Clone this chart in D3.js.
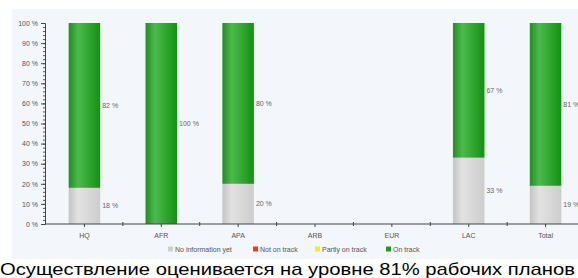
<!DOCTYPE html>
<html>
<head>
<meta charset="utf-8">
<script src="https://cdn.jsdelivr.net/npm/d3@7"></script>
<style>
  body { margin: 0; background: #fff; }
  svg { display: block; font-family: Arial, "Liberation Sans", sans-serif; }
</style>
</head>
<body>
<div id="visContainer"></div>
<script>
// data
const categories = ["HQ", "AFR", "APA", "ARB", "EUR", "LAC", "Total"];
const noInfo = [18, 0, 20, 0, 0, 33, 19];
const notOnTrack = [0, 0, 0, 0, 0, 0, 0];
const partlyOnTrack = [0, 0, 0, 0, 0, 0, 0];
const onTrack = [82, 100, 80, 0, 0, 67, 81];
const yTicks = [0, 10, 20, 30, 40, 50, 60, 70, 80, 90, 100];
const seriesNames = ["No information yet", "Not on track", "Partly on track", "On track"];
const caption = "Осуществление оценивается на уровне 81% рабочих планов";

const width = 578;
const height = 278;
const colors = ["#cfcfcf", "#e8401c", "#f2ee1a", "#1e9a1e"];

const svg = d3.select("#visContainer").append("svg")
  .attr("width", width)
  .attr("height", height);

// gradients for the cylinder-like bars
const defs = svg.append("defs");
const gradStops = [
  ["g0", "#c4c4c4", "#e2e2e2", "#cdcdcd"],
  ["g1", "#c83010", "#f0603c", "#d03818"],
  ["g2", "#d8d410", "#fbf860", "#e0dc18"],
  ["g3", "#1f8f1f", "#4cba4c", "#129212"]
];
gradStops.forEach(([id, a, b, c]) => {
  const g = defs.append("linearGradient").attr("id", id)
    .attr("x1", "0%").attr("x2", "100%").attr("y1", "0%").attr("y2", "0%");
  g.append("stop").attr("offset", "0%").attr("stop-color", a);
  g.append("stop").attr("offset", "30%").attr("stop-color", b);
  g.append("stop").attr("offset", "100%").attr("stop-color", c);
});

// plot background
svg.append("rect")
  .attr("x", 12).attr("y", 9)
  .attr("width", width - 12).attr("height", 250)
  .attr("fill", "#f3f6fa");

const xScale = d3.scaleBand()
  .domain(categories)
  .range([46, 584])
  .paddingInner(0.59)
  .paddingOuter(0.295);

const yScale = d3.scaleLinear()
  .domain([0, 100])
  .range([224, 23]);

const rows = categories.map((c, i) => ({
  cat: c,
  vals: [noInfo[i], notOnTrack[i], partlyOnTrack[i], onTrack[i]]
}));

const stacked = d3.stack().keys([0, 1, 2, 3]).value((d, k) => d.vals[k])(rows);

const layers = svg.append("g").selectAll("g")
  .data(stacked)
  .join("g")
  .attr("fill", (d, i) => `url(#g${i})`);

layers.selectAll("rect")
  .data(d => d.map(p => ({ cat: p.data.cat, y0: p[0], y1: p[1] })))
  .join("rect")
  .filter(d => d.y1 - d.y0 > 0)
  .attr("x", d => xScale(d.cat))
  .attr("width", xScale.bandwidth())
  .attr("y", d => yScale(d.y1))
  .attr("height", d => yScale(d.y0) - yScale(d.y1));

// value labels to the right of each segment
const labels = [];
stacked.forEach(layer => layer.forEach(p => {
  if (p[1] - p[0] > 0) labels.push({ cat: p.data.cat, mid: (p[0] + p[1]) / 2, v: p[1] - p[0] });
}));
svg.append("g").selectAll("text")
  .data(labels)
  .join("text")
  .attr("x", d => xScale(d.cat) + xScale.bandwidth() + 2)
  .attr("y", d => yScale(d.mid) + 2.5)
  .attr("font-size", 7)
  .attr("fill", "#666")
  .text(d => d.v + " %");

// y axis with minor ticks
svg.append("g")
  .attr("transform", "translate(45,0)")
  .call(d3.axisLeft(yScale).tickValues(d3.range(0, 101, 2)).tickSize(2).tickFormat(""))
  .call(g => g.select(".domain").remove())
  .call(g => g.selectAll("line").attr("stroke", "#555"));

const yAxis = svg.append("g")
  .attr("transform", "translate(45,0)")
  .call(d3.axisLeft(yScale).tickValues(yTicks).tickSize(4).tickPadding(3).tickFormat(d => d + " %"));
yAxis.select(".domain").attr("stroke", "#444");
yAxis.selectAll("line").attr("stroke", "#444");
yAxis.selectAll("text").attr("font-size", 7).attr("fill", "#555").attr("font-family", "Arial, sans-serif");

// x axis
const xAxis = svg.append("g")
  .attr("transform", "translate(0,224)")
  .call(d3.axisBottom(xScale).tickSize(3).tickPadding(6))
  .call(g => g.select(".domain").attr("d", "M45,0H578").attr("stroke", "#444"));
xAxis.selectAll("line").attr("stroke", "#444");
xAxis.selectAll("text").attr("font-size", 7).attr("fill", "#555").attr("font-family", "Arial, sans-serif");

// ticks between categories
svg.append("g").selectAll("line")
  .data(categories.slice(1))
  .join("line")
  .attr("x1", d => xScale(d) - xScale.step() * xScale.paddingInner() / 2)
  .attr("x2", d => xScale(d) - xScale.step() * xScale.paddingInner() / 2)
  .attr("y1", 222).attr("y2", 226)
  .attr("stroke", "#444");

// legend
const legendX = [168, 253, 315, 386];
const legend = svg.append("g").selectAll("g")
  .data(seriesNames)
  .join("g")
  .attr("transform", (d, i) => `translate(${legendX[i]},252)`);
legend.append("rect")
  .attr("x", 0).attr("y", -5.5).attr("width", 5).attr("height", 5)
  .attr("fill", (d, i) => colors[i]);
legend.append("text")
  .attr("x", 7).attr("y", 0)
  .attr("font-size", 7)
  .attr("fill", "#555")
  .text(d => d);

// caption under the chart
svg.append("text")
  .attr("x", 0).attr("y", 275)
  .attr("font-size", 17)
  .attr("textLength", 575)
  .attr("lengthAdjust", "spacingAndGlyphs")
  .attr("fill", "#000")
  .text(caption);
</script>
</body>
</html>
